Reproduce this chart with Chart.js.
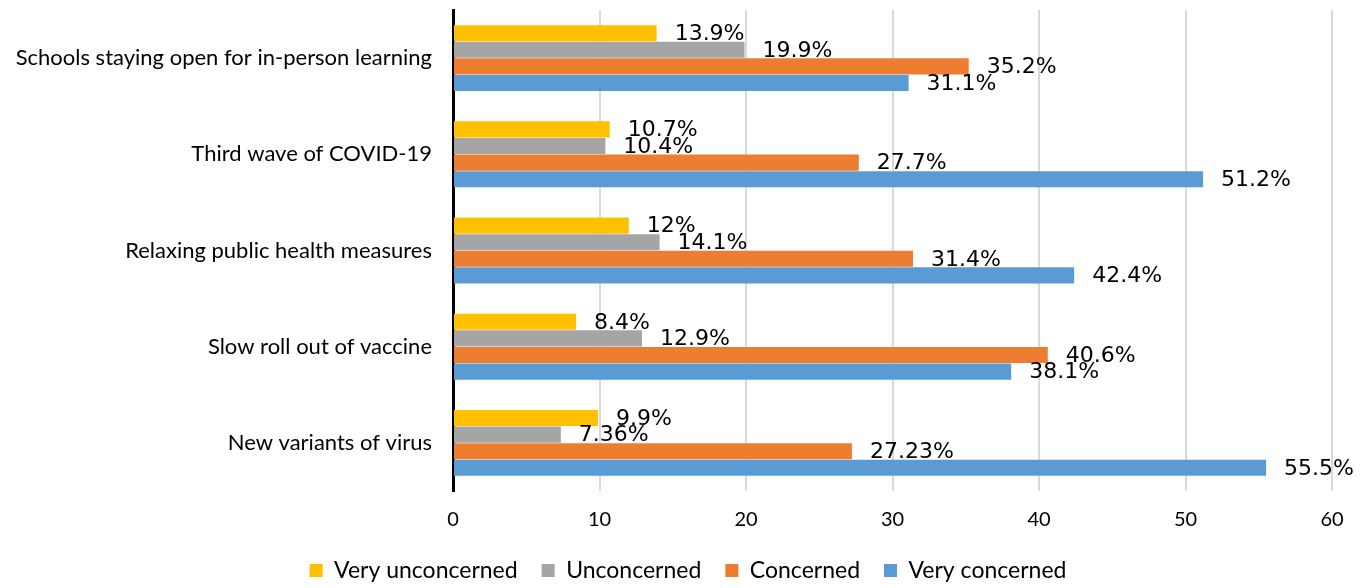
<!DOCTYPE html>
<html>
<head>
<meta charset="utf-8">
<title>COVID-19 concerns</title>
<script src="https://cdn.jsdelivr.net/npm/chart.js@4"></script>
<style>
  html, body { margin: 0; padding: 0; background: #fff; }
  #wrap { width: 1364px; height: 588px; }
</style>
</head>
<body>
<div id="wrap"><canvas id="concernChart" width="1364" height="588"></canvas></div>
<script>
const categories = [
    "Schools staying open for in-person learning",
    "Third wave of COVID-19",
    "Relaxing public health measures",
    "Slow roll out of vaccine",
    "New variants of virus"
];
const veryUnconcerned = [13.9, 10.7, 12, 8.4, 9.9];
const unconcerned = [19.9, 10.4, 14.1, 12.9, 7.36];
const concerned = [35.2, 27.7, 31.4, 40.6, 27.23];
const veryConcerned = [31.1, 51.2, 42.4, 38.1, 55.5];
const xTicks = [0, 10, 20, 30, 40, 50, 60];

// percentage text to the right of each bar
const valueLabels = {
    id: 'valueLabels',
    afterDatasetsDraw(chart) {
        const ctx = chart.ctx;
        ctx.save();
        ctx.font = '22px "DejaVu Sans"';
        ctx.fillStyle = '#000';
        ctx.textAlign = 'left';
        ctx.textBaseline = 'middle';
        chart.data.datasets.forEach((ds, i) => {
            chart.getDatasetMeta(i).data.forEach((bar, j) => {
                ctx.fillText(ds.data[j] + '%', bar.x + 18, bar.y + 1);
            });
        });
        ctx.restore();
    }
};

// nudge the legend row a little to the right of the canvas centre
const legendShift = {
    id: 'legendShift',
    afterLayout(chart) {
        chart.legend.left += 22;
        chart.legend.right += 22;
    }
};

new Chart(document.getElementById("concernChart"), {
    type: 'bar',
    data: {
        labels: categories,
        datasets: [
            { label: "Very unconcerned", data: veryUnconcerned, backgroundColor: "#FFC000" },
            { label: "Unconcerned", data: unconcerned, backgroundColor: "#A5A5A5" },
            { label: "Concerned", data: concerned, backgroundColor: "#ED7D31" },
            { label: "Very concerned", data: veryConcerned, backgroundColor: "#5B9BD5" }
        ]
    },
    options: {
        indexAxis: 'y',
        responsive: false,
        animation: false,
        datasets: { bar: { categoryPercentage: 0.69, barPercentage: 0.97 } },
        layout: { padding: { top: 10, right: 32, bottom: -4, left: 0 } },
        scales: {
            x: {
                min: 0,
                max: 60,
                afterBuildTicks: (scale) => { scale.ticks = xTicks.map(v => ({ value: v })); },
                afterFit: (scale) => { scale.height = 44; },
                grid: { color: '#D9D9D9', lineWidth: 2, drawTicks: false },
                border: { display: false },
                ticks: { color: '#000', padding: 17, font: { family: 'Lato', size: 20 } }
            },
            y: {
                afterFit: (scale) => {
                    scale.width = 453;
                    scale.paddingTop = 0;
                    scale.paddingBottom = 0;
                },
                grid: { display: false, drawTicks: false },
                border: { color: '#000', width: 3 },
                ticks: { color: '#000', padding: 21, font: { family: 'Lato', size: 22 } }
            }
        },
        plugins: {
            legend: {
                position: 'bottom',
                labels: {
                    boxWidth: 13,
                    boxHeight: 13,
                    padding: 24,
                    color: '#000',
                    font: { family: 'Lato', size: 23 }
                }
            },
            tooltip: { enabled: false }
        }
    },
    plugins: [valueLabels, legendShift]
});
</script>
</body>
</html>
